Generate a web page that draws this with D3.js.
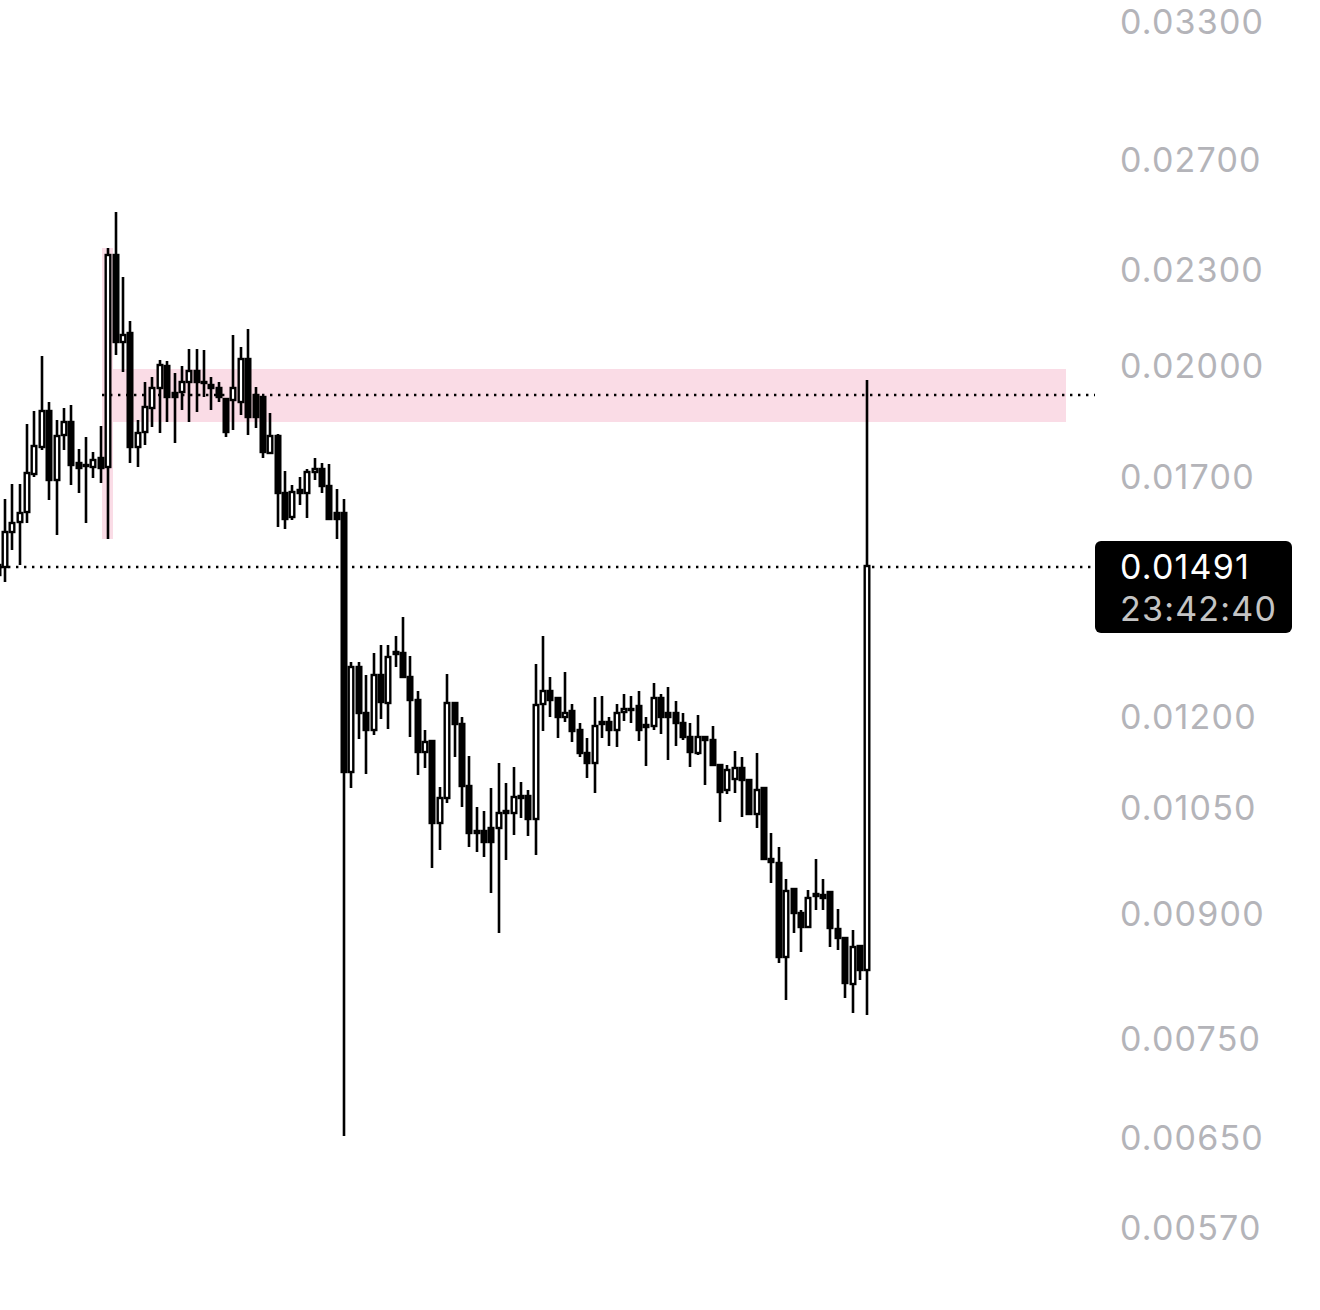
<!DOCTYPE html>
<html><head><meta charset="utf-8">
<script src="https://cdn.jsdelivr.net/npm/d3@7"></script>
<style>
html,body{margin:0;padding:0;background:#fff;}
svg{display:block;}
</style></head>
<body>
<svg id="chart" width="1320" height="1310"></svg>
<script>
const opens = [.01492,.01488,.01566,.01589,.01612,.01704,.01772,.01868,.01689,.01803,.01838,.01731,.01724,.01721,.01744,.01721,.02344,.02065,.02092,.01772,.01811,.01876,.01931,.01994,.01917,.01920,.01948,.01980,.01948,.01940,.01931,.01901,.01898,.01892,.02015,.01912,.01906,.01757,.01801,.01657,.01600,.01665,.01657,.01709,.01716,.01674,.01610,.01610,.01104,.01286,.01203,.01174,.01271,.01221,.01311,.01313,.01268,.01226,.01137,.01155,.01025,.01063,.01221,.01184,.01082,.01013,.01013,.01018,.01018,.01040,.01040,.01063,.01066,.01031,.01219,.01242,.01230,.01196,.01207,.01174,.01135,.01119,.01184,.01187,.01174,.01205,.01210,.01215,.01182,.01180,.01230,.01203,.01203,.01186,.01162,.01135,.01162,.01157,.01115,.01075,.01093,.01110,.01091,.01039,.01079,.00973,.00967,.00843,.00931,.00899,.00881,.00921,.00923,.00927,.00878,.00867,.00811,.00857,.00827];
const highs = [.01503,.01643,.01679,.01679,.01833,.01868,.02023,.01892,.01843,.01876,.01884,.01767,.01798,.01759,.01827,.02368,.02495,.02270,.02129,.01843,.01948,.01962,.02012,.02009,.01974,.01994,.02044,.02044,.02041,.01962,.01948,.01903,.02086,.02050,.02105,.01934,.01909,.01862,.01806,.01711,.01677,.01696,.01716,.01744,.01731,.01729,.01667,.01643,.01296,.01296,.01271,.01313,.01328,.01328,.01346,.01384,.01307,.01242,.01174,.01157,.01080,.01273,.01222,.01196,.01130,.01049,.01043,.01079,.01119,.01086,.01112,.01088,.01075,.01292,.01346,.01268,.01231,.01277,.01219,.01186,.01160,.01231,.01233,.01196,.01219,.01237,.01233,.01242,.01196,.01257,.01237,.01249,.01224,.01203,.01186,.01200,.01163,.01180,.01117,.01115,.01138,.01128,.01093,.01135,.01080,.01010,.00990,.00945,.00932,.00903,.00930,.00973,.00945,.00928,.00904,.00868,.00877,.00858,.01954];
const lows = [.01456,.01456,.01525,.01492,.01586,.01696,.01764,.01641,.01559,.01764,.01677,.01657,.01586,.01694,.01682,.01550,.02026,.01977,.01731,.01721,.01777,.01825,.01809,.01838,.01782,.01870,.01838,.01865,.01906,.01870,.01892,.01798,.01817,.01857,.01803,.01822,.01744,.01754,.01577,.01573,.01593,.01629,.01598,.01689,.01657,.01593,.01550,.00650,.01079,.01158,.01101,.01165,.01193,.01175,.01286,.01266,.01162,.01099,.01110,.00960,.00985,.01055,.01128,.01049,.00990,.00983,.00975,.00926,.00873,.00971,.01007,.01032,.01006,.00978,.01172,.01196,.01160,.01187,.01153,.01128,.01094,.01071,.01160,.01147,.01145,.01189,.01186,.01155,.01114,.01174,.01167,.01123,.01147,.01157,.01112,.01132,.01083,.01114,.01026,.01069,.01071,.01034,.01037,.01018,.00971,.00939,.00836,.00792,.00873,.00849,.00880,.00903,.00903,.00856,.00852,.00794,.00777,.00815,.00775];
const closes = [.01471,.01566,.01586,.01610,.01706,.01775,.01868,.01689,.01801,.01838,.01726,.01719,.01726,.01739,.01719,.02344,.02065,.02086,.01772,.01809,.01879,.01931,.01997,.01906,.01906,.01948,.01980,.01948,.01945,.01931,.01906,.01811,.01931,.02015,.01851,.01851,.01759,.01801,.01657,.01596,.01660,.01657,.01709,.01716,.01674,.01596,.01596,.01104,.01286,.01203,.01174,.01271,.01222,.01305,.01315,.01268,.01226,.01137,.01153,.01025,.01063,.01221,.01184,.01082,.01010,.01010,.00997,.00997,.01040,.01043,.01065,.01066,.01031,.01217,.01242,.01226,.01196,.01203,.01172,.01135,.01119,.01180,.01187,.01174,.01203,.01210,.01208,.01174,.01179,.01230,.01196,.01196,.01186,.01162,.01137,.01162,.01157,.01115,.01072,.01107,.01110,.01091,.01039,.01075,.00973,.00968,.00843,.00928,.00899,.00881,.00919,.00924,.00919,.00880,.00867,.00812,.00856,.00827,.01491];

const tickValues = [0.033, 0.027, 0.023, 0.020, 0.017, 0.012, 0.0105, 0.009, 0.0075, 0.0065, 0.0057];
const lastPrice = 0.01491;
const countdown = "23:42:40";
const zoneTop = 0.01986, zoneBottom = 0.01838;
const zoneLine = 0.01912;
const highlightIndex = 15;

const svg = d3.select("#chart");
const y = d3.scaleLog().domain([0.0057, 0.033]).range([1226, 20]);
const x = d3.scaleLinear().domain([0, opens.length - 1]).range([-2.37, 867.3]);
const X = i => Math.round(x(i));
const Y = v => Math.round(y(v));
const data = opens.map((o, i) => ({i, o, h: highs[i], l: lows[i], c: closes[i]}));

// highlight zone
svg.append("rect")
  .attr("x", X(highlightIndex) + 4).attr("width", 1066 - X(highlightIndex) - 4)
  .attr("y", Y(zoneTop)).attr("height", Y(zoneBottom) - Y(zoneTop))
  .attr("fill", "#fadce6");
const hc = data[highlightIndex];
svg.append("rect")
  .attr("x", X(highlightIndex) - 6).attr("width", 11)
  .attr("y", Y(hc.h)).attr("height", Y(hc.l) - Y(hc.h))
  .attr("fill", "#fadce6");

// dotted lines
const fontFam = "Inter, 'Noto Sans', sans-serif";
svg.append("line")
  .attr("x1", X(highlightIndex) - 6).attr("x2", 1095)
  .attr("y1", Y(zoneLine)).attr("y2", Y(zoneLine))
  .attr("stroke", "#000").attr("stroke-width", 2.4).attr("stroke-dasharray", "2.4,5.6");
svg.append("line")
  .attr("x1", 0).attr("x2", 1095)
  .attr("y1", 567).attr("y2", 567)
  .attr("stroke", "#000").attr("stroke-width", 2.4).attr("stroke-dasharray", "2.4,5.6");

// candles
const g = svg.append("g");
g.selectAll("line.wick").data(data).join("line")
  .attr("class", "wick")
  .attr("x1", d => X(d.i)).attr("x2", d => X(d.i))
  .attr("y1", d => Y(d.h)).attr("y2", d => Y(d.l))
  .attr("stroke", "#000").attr("stroke-width", 2.6);
g.selectAll("rect.body").data(data).join("rect")
  .attr("class", "body")
  .attr("x", d => X(d.i) - 2.3).attr("width", 4.6)
  .attr("y", d => Y(Math.max(d.o, d.c)))
  .attr("height", d => Math.max(1, Math.abs(Y(d.o) - Y(d.c))))
  .attr("fill", d => d.c >= d.o ? "#fff" : "#000")
  .attr("stroke", "#000").attr("stroke-width", 2.4);

// axis
const axis = d3.axisRight(y).tickValues(tickValues).tickFormat(d3.format(".5f")).tickSize(0).tickPadding(0);
const ag = svg.append("g").attr("transform", "translate(1120,0)").call(axis);
ag.select(".domain").remove();
ag.selectAll("text")
  .attr("dy", "0.39em")
  .attr("fill", "#b4b4b9")
  .style("font-family", fontFam)
  .style("font-size", "34px")
  .style("letter-spacing", "1.2px");

// last price label
svg.append("rect").attr("x", 1095).attr("y", 541).attr("width", 197).attr("height", 92).attr("rx", 6).attr("fill", "#000");
svg.append("text").attr("x", 1120).attr("y", y(lastPrice) + 1).attr("dy", "0.35em")
  .attr("fill", "#fff").style("font-family", fontFam).style("font-size", "34px").style("letter-spacing", "1.2px")
  .text(d3.format(".5f")(lastPrice));
svg.append("text").attr("x", 1120).attr("y", 609).attr("dy", "0.35em")
  .attr("fill", "#c4c4c4").style("font-family", fontFam).style("font-size", "34px").style("letter-spacing", "1.2px")
  .text(countdown);
</script>
</body></html>
